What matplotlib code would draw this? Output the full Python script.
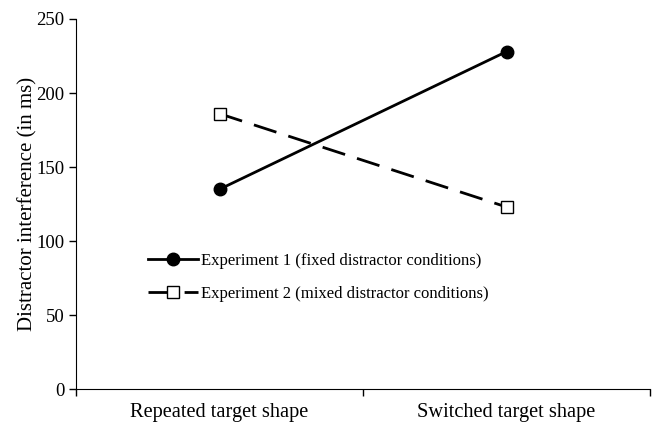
import matplotlib.pyplot as plt

# data
categories = ['Repeated target shape', 'Switched target shape']
exp1 = [135, 228]
exp2 = [186, 123]
labels = ['Experiment 1 (fixed distractor conditions)',
          'Experiment 2 (mixed distractor conditions)']

plt.rcParams['font.family'] = ['Liberation Serif', 'DejaVu Serif']
plt.rcParams['font.size'] = 13.5

fig = plt.figure(figsize=(6.56, 4.22), dpi=100)
ax = fig.add_axes([0.116, 0.078, 0.875, 0.877])

x = range(len(categories))
ax.plot(x, exp1, color='black', lw=2.0, marker='o', markersize=9,
        label=labels[0])
ax.plot(x, exp2, color='black', lw=2.0, dashes=(8.5, 4.5), marker='s',
        markersize=8, markerfacecolor='white', markeredgewidth=1.0,
        label=labels[1])

ax.set_xlim(-0.5, 1.5)
ax.set_ylim(0, 250)
ax.set_yticks([0, 50, 100, 150, 200, 250])
ax.set_xticks([-0.5, 0.5, 1.5])
ax.set_xticklabels([])
ax.set_xticks(list(x), minor=True)
ax.set_xticklabels(categories, minor=True, fontsize=14.7)
ax.tick_params(axis='x', which='minor', length=0, pad=10)
ax.tick_params(axis='both', which='major', direction='out', length=5, width=1)
ax.set_ylabel('Distractor interference (in ms)', labelpad=-1, fontsize=15)

for s in ['top', 'right']:
    ax.spines[s].set_visible(False)

ax.legend(frameon=False, loc='upper left', bbox_to_anchor=(0.113, 0.385),
          handlelength=3.0, handletextpad=0.2, labelspacing=1.0,
          borderaxespad=0, fontsize=12)

plt.savefig('out.png', dpi=100)
